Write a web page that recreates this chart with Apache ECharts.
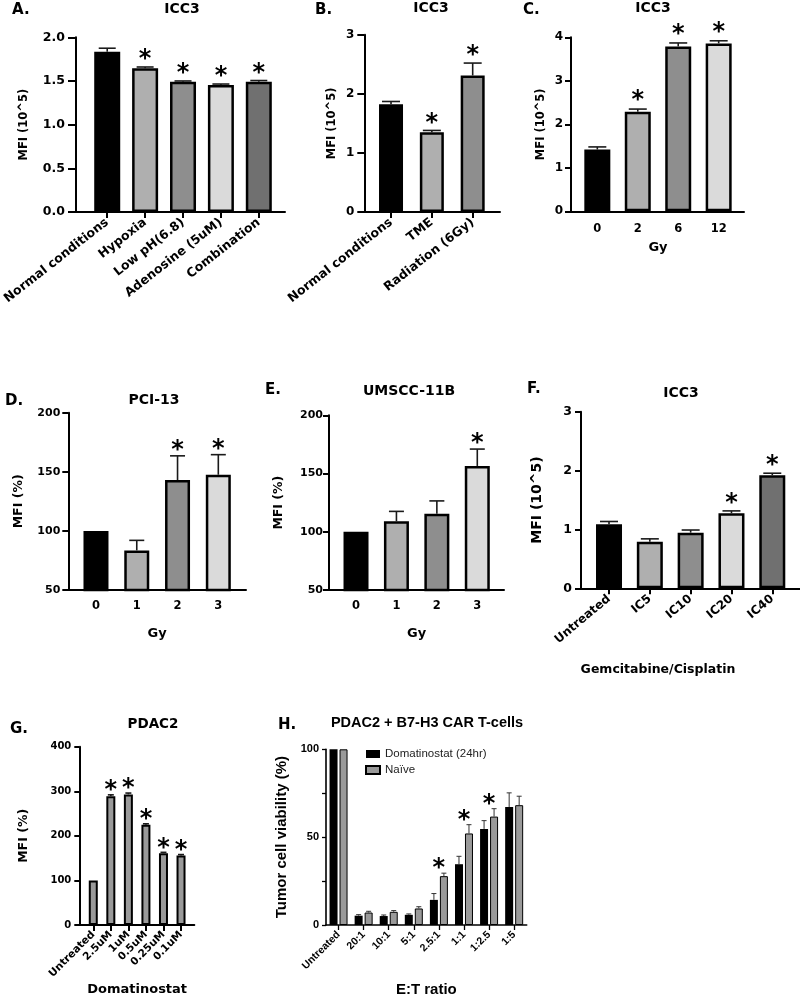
<!DOCTYPE html>
<html><head><meta charset="utf-8">
<script src="https://cdn.jsdelivr.net/npm/echarts@6/dist/echarts.min.js"></script>
<style>html,body{margin:0;padding:0;background:#fff}#c{width:800px;height:998px}</style>
</head><body><div id="c"></div>
<script>
// ---------------- DATA ----------------
const catsA = ['Normal conditions', 'Hypoxia', 'Low pH(6.8)', 'Adenosine (5uM)', 'Combination'];
const valsA = [1.835, 1.645, 1.49, 1.455, 1.49];
const errsA = [0.04, 0.015, 0.01, 0.01, 0.015];
const sigA  = [0, 1, 1, 1, 1];
const yTicksA = [0, 0.5, 1.0, 1.5, 2.0];

const catsB = ['Normal conditions', 'TME', 'Radiation (6Gy)'];
const valsB = [1.825, 1.35, 2.31];
const errsB = [0.045, 0.03, 0.21];
const sigB  = [0, 1, 1];
const yTicksB = [0, 1, 2, 3];

const catsC = ['0', '2', '6', '12'];
const valsC = [1.42, 2.29, 3.79, 3.86];
const errsC = [0.06, 0.06, 0.08, 0.06];
const sigC  = [0, 1, 1, 1];
const yTicksC = [0, 1, 2, 3, 4];

const catsD = ['0', '1', '2', '3'];
const valsD = [100, 83.5, 143, 147.5];
const errsD = [0, 8.5, 20.5, 17];
const sigD  = [0, 0, 1, 1];
const yTicksD = [50, 100, 150, 200];

const catsE = ['0', '1', '2', '3'];
const valsE = [100, 109, 115.5, 156.5];
const errsE = [0, 8.5, 11, 14.5];
const sigE  = [0, 0, 0, 1];
const yTicksE = [50, 100, 150, 200];

const catsF = ['Untreated', 'IC5', 'IC10', 'IC20', 'IC40'];
const valsF = [1.09, 0.79, 0.945, 1.275, 1.92];
const errsF = [0.045, 0.05, 0.045, 0.04, 0.035];
const sigF  = [0, 0, 0, 1, 1];
const yTicksF = [0, 1, 2, 3];

const catsG = ['Untreated', '2.5uM', '1uM', '0.5uM', '0.25uM', '0.1uM'];
const valsG = [100, 289, 293, 225, 161, 156];
const errsG = [0, 3, 3, 2, 2, 2];
const sigG  = [0, 1, 1, 1, 1, 1];
const yTicksG = [0, 100, 200, 300, 400];

const catsH = ['Untreated', '20:1', '10:1', '5:1', '2.5:1', '1:1', '1:2.5', '1:5'];
const domatH    = [100, 5.3, 5.1, 5.8, 14.3, 34.6, 54.7, 67.1];
const domatErrH = [0, 0.6, 0.6, 0.5, 3.6, 4.5, 4.7, 8.1];
const naiveH    = [100, 7.1, 7.5, 9.4, 27.8, 52.1, 61.7, 68.2];
const naiveErrH = [0, 0.7, 0.7, 1.0, 1.7, 5.0, 4.5, 5.1];
const sigH      = [0, 0, 0, 0, 1, 1, 1, 0];
const yTicksH = [0, 25, 50, 75, 100];
const seriesNamesH = ['Domatinostat (24hr)', 'Naïve'];

// ---------------- STYLES ----------------
const greys5 = ['#000000', '#afafaf', '#8e8e8e', '#dadada', '#707070'];
const FD = '"DejaVu Sans", sans-serif';
const FL = '"Liberation Sans", Arial, sans-serif';
const STAR_FONT = 'bold 24px "DejaVu Sans"';

const option = {
  animation: false, backgroundColor: '#ffffff',
  title: [], grid: [], xAxis: [], yAxis: [], series: [], legend: []
};

function addText(text, x, y, size, font, align) {
  option.title.push({
    text: text, left: x, top: y, padding: 0,
    textAlign: align || 'left', textVerticalAlign: 'middle',
    textStyle: { fontFamily: font, fontSize: size, fontWeight: 'bold', color: '#000' }
  });
}

function errSeries(xi, yi, vals, errs, dx, cap, color, lw) {
  return {
    type: 'custom', xAxisIndex: xi, yAxisIndex: yi, z: 5, silent: true,
    data: vals.map((v, i) => [i, v, errs[i]]),
    renderItem: function (params, api) {
      const i = api.value(0), v = api.value(1), e = api.value(2);
      if (!e) return { type: 'group', children: [] };
      const b = api.coord([i, v]), t = api.coord([i, v + e]);
      const x = b[0] + dx;
      return { type: 'group', children: [
        { type: 'line', shape: { x1: x, y1: b[1], x2: x, y2: t[1] }, style: { stroke: color, lineWidth: lw } },
        { type: 'line', shape: { x1: x - cap / 2, y1: t[1], x2: x + cap / 2, y2: t[1] }, style: { stroke: color, lineWidth: lw } }
      ] };
    }
  };
}

function starSeries(xi, yi, tops, sig, lift) {
  return {
    type: 'custom', xAxisIndex: xi, yAxisIndex: yi, z: 6, silent: true,
    data: tops.map((v, i) => [i, v, sig[i]]),
    renderItem: function (params, api) {
      if (!api.value(2)) return { type: 'group', children: [] };
      const p = api.coord([api.value(0), api.value(1)]);
      return { type: 'text', x: p[0], y: p[1] - lift,
        style: { text: '*', font: STAR_FONT, fill: '#000', align: 'center', verticalAlign: 'middle' } };
    }
  };
}

function barPanel(p) {
  const gi = option.grid.length;
  const xi = option.xAxis.length, yi = option.yAxis.length;
  const ymin = p.yTicks[0], ymax = p.yTicks[p.yTicks.length - 1], yint = p.yTicks[1] - p.yTicks[0];
  const h = p.bottom - p.top;
  option.grid.push({ left: p.axisX, top: p.top, width: p.axisEnd - p.axisX, height: h });
  option.grid.push({ left: p.plotL, top: p.top, width: p.plotR - p.plotL, height: h });
  const axLine = { show: true, onZero: false, lineStyle: { color: '#000', width: p.lw || 2 } };
  // frame axes
  option.xAxis.push({ gridIndex: gi, type: 'value', min: 0, max: 1, axisLine: axLine,
    axisTick: { show: false }, axisLabel: { show: false }, splitLine: { show: false } });
  option.yAxis.push({ gridIndex: gi, type: 'value', min: ymin, max: ymax, interval: yint,
    axisLine: axLine, axisTick: { show: true, length: p.yTickLen, lineStyle: { color: '#000', width: 2 } },
    axisLabel: { margin: p.yLabMargin, fontFamily: FD, fontSize: p.yLabSize, fontWeight: 'bold', color: '#000',
      formatter: p.yFmt || function (v) { return String(v); } },
    splitLine: { show: false },
    name: p.yName, nameLocation: 'middle', nameGap: p.yNameGap, nameRotate: 90,
    nameTextStyle: { fontFamily: FD, fontSize: p.yNameSize, fontWeight: 'bold', color: '#000' } });
  // plot axes
  const xa = { gridIndex: gi + 1, type: 'category', data: p.cats,
    axisLine: { show: false },
    axisTick: { show: p.xTicks, alignWithLabel: true, length: p.xTickLen || 6, lineStyle: { color: '#000', width: 2 } },
    axisLabel: { interval: 0, rotate: p.xRot || 0, margin: p.xLabMargin, fontFamily: FD, fontSize: p.xLabSize,
      fontWeight: 'bold', color: '#000' },
    splitLine: { show: false } };
  if (p.xName) {
    xa.name = p.xName; xa.nameLocation = 'middle'; xa.nameGap = p.xNameGap;
    xa.nameTextStyle = { fontFamily: FD, fontSize: p.xNameSize, fontWeight: 'bold', color: '#000' };
  }
  option.xAxis.push(xa);
  option.yAxis.push({ gridIndex: gi + 1, type: 'value', min: ymin, max: ymax, interval: yint, show: false });
  option.series.push({
    type: 'bar', xAxisIndex: xi + 1, yAxisIndex: yi + 1, barWidth: p.barW, clip: true, silent: true,
    data: p.vals.map((v, i) => ({ value: v, itemStyle: { color: p.colors[i % p.colors.length] } })),
    itemStyle: { borderColor: '#000', borderWidth: p.bw }
  });
  option.series.push(errSeries(xi + 1, yi + 1, p.vals, p.errs, 0, p.cap, '#1a1a1a', p.elw || 1.6));
  option.series.push(starSeries(xi + 1, yi + 1, p.vals.map((v, i) => v + p.errs[i]), p.sig, p.starLift));
  addText(p.letter, p.letterX, p.letterY, p.letterSize || 15, FD, 'left');
  addText(p.title, p.titleX, p.titleY, p.titleSize || 14, FD, 'center');
}

// ---------------- PANELS ----------------
barPanel({ letter: 'A.', letterX: 12, letterY: 10, title: 'ICC3', titleX: 182, titleY: 9,
  cats: catsA, vals: valsA, errs: errsA, sig: sigA, yTicks: yTicksA, colors: greys5,
  axisX: 76, axisEnd: 285, plotL: 83.25, plotR: 277.75, top: 37.3, bottom: 212,
  yFmt: function (v) { return v.toFixed(1); }, yLabSize: 12.5, yLabMargin: 11, yTickLen: 8,
  yName: 'MFI (10^5)', yNameGap: 46, yNameSize: 11.5,
  xTicks: true, xTickLen: 6, xRot: 38, xLabMargin: 9, xLabSize: 12.5,
  barW: 26, bw: 2.5, cap: 17, starLift: 7 });

barPanel({ letter: 'B.', letterX: 315, letterY: 10, title: 'ICC3', titleX: 431, titleY: 8.5,
  cats: catsB, vals: valsB, errs: errsB, sig: sigB, yTicks: yTicksB, colors: greys5,
  axisX: 364.3, axisEnd: 500, plotL: 370.6, plotR: 493.1, top: 34.7, bottom: 212,
  yLabSize: 12, yLabMargin: 10, yTickLen: 7,
  yName: 'MFI (10^5)', yNameGap: 26, yNameSize: 11.5,
  xTicks: true, xTickLen: 6, xRot: 38, xLabMargin: 9, xLabSize: 12.5,
  barW: 24, bw: 2.5, cap: 18, starLift: 7 });

barPanel({ letter: 'C.', letterX: 523, letterY: 10, title: 'ICC3', titleX: 653, titleY: 8,
  cats: catsC, vals: valsC, errs: errsC, sig: sigC, yTicks: yTicksC, colors: greys5,
  axisX: 571, axisEnd: 744, plotL: 577.1, plotR: 738.9, top: 37.3, bottom: 211.3,
  yLabSize: 12, yLabMargin: 8, yTickLen: 6,
  yName: 'MFI (10^5)', yNameGap: 24, yNameSize: 11.5,
  xTicks: false, xLabMargin: 12, xLabSize: 11.5,
  xName: 'Gy', xNameGap: 30, xNameSize: 13,
  barW: 26, bw: 2.5, cap: 18, starLift: 8 });

barPanel({ letter: 'D.', letterX: 5, letterY: 401, title: 'PCI-13', titleX: 154, titleY: 400.5,
  cats: catsD, vals: valsD, errs: errsD, sig: sigD, yTicks: yTicksD, colors: greys5,
  axisX: 68.3, axisEnd: 246, plotL: 75.6, plotR: 238.7, top: 412.7, bottom: 590,
  yLabSize: 11, yLabMargin: 8, yTickLen: 6,
  yName: 'MFI (%)', yNameGap: 43, yNameSize: 12.5,
  xTicks: false, xLabMargin: 10, xLabSize: 11.5,
  xName: 'Gy', xNameGap: 37, xNameSize: 13,
  barW: 25, bw: 2.5, cap: 15, starLift: 5 });

barPanel({ letter: 'E.', letterX: 265, letterY: 390, title: 'UMSCC-11B', titleX: 409, titleY: 391.5,
  cats: catsE, vals: valsE, errs: errsE, sig: sigE, yTicks: yTicksE, colors: greys5,
  axisX: 329, axisEnd: 504, plotL: 335.8, plotR: 497.5, top: 415.3, bottom: 590,
  yLabSize: 11, yLabMargin: 6, yTickLen: 6,
  yName: 'MFI (%)', yNameGap: 44, yNameSize: 12.5,
  xTicks: false, xLabMargin: 10, xLabSize: 11.5,
  xName: 'Gy', xNameGap: 37, xNameSize: 13,
  barW: 25, bw: 2.5, cap: 15, starLift: 5 });

barPanel({ letter: 'F.', letterX: 527, letterY: 389.5, title: 'ICC3', titleX: 681, titleY: 393,
  cats: catsF, vals: valsF, errs: errsF, sig: sigF, yTicks: yTicksF, colors: greys5,
  axisX: 581, axisEnd: 800, plotL: 588.6, plotR: 792.7, top: 411.7, bottom: 588.3,
  yLabSize: 12.5, yLabMargin: 9, yTickLen: 6,
  yName: 'MFI (10^5)', yNameGap: 37, yNameSize: 14,
  xTicks: true, xTickLen: 6, xRot: 40, xLabMargin: 9, xLabSize: 12,
  barW: 26, bw: 2.5, cap: 18, starLift: 7 });
addText('Gemcitabine/Cisplatin', 658, 670, 12.5, FD, 'center');

barPanel({ letter: 'G.', letterX: 10, letterY: 729.5, title: 'PDAC2', titleX: 153, titleY: 724, titleSize: 13.5,
  cats: catsG, vals: valsG, errs: errsG, sig: sigG, yTicks: yTicksG, colors: ['#9a9a9a'],
  axisX: 79.3, axisEnd: 194.3, plotL: 84.5, plotR: 189.8, top: 746.7, bottom: 925,
  yLabSize: 10, yLabMargin: 8, yTickLen: 5,
  yName: 'MFI (%)', yNameGap: 49, yNameSize: 12.5,
  xTicks: true, xTickLen: 6, xRot: 45, xLabMargin: 8, xLabSize: 10.5,
  xName: 'Domatinostat', xNameGap: 58, xNameSize: 13,
  barW: 9, bw: 2, cap: 6, starLift: 4 });

// ---- Panel H (grouped) ----
(function () {
  const gi = option.grid.length, xi = option.xAxis.length, yi = option.yAxis.length;
  option.grid.push({ left: 326, top: 749.3, width: 200.7, height: 177.4 });
  option.xAxis.push({ gridIndex: gi, type: 'category', data: catsH,
    axisLine: { show: true, onZero: false, lineStyle: { color: '#000', width: 1.6 } },
    axisTick: { show: true, alignWithLabel: true, length: 5, lineStyle: { color: '#000', width: 1.3 } },
    axisLabel: { interval: 0, rotate: 45, margin: 8, fontFamily: FL, fontSize: 10.5, fontWeight: 'bold', color: '#000' },
    name: 'E:T ratio', nameLocation: 'middle', nameGap: 57,
    nameTextStyle: { fontFamily: FL, fontSize: 15, fontWeight: 'bold', color: '#000' } });
  option.yAxis.push({ gridIndex: gi, type: 'value', min: yTicksH[0], max: yTicksH[yTicksH.length - 1],
    interval: yTicksH[1] - yTicksH[0],
    axisLine: { show: true, onZero: false, lineStyle: { color: '#000', width: 1.6 } },
    axisTick: { show: true, length: 4, lineStyle: { color: '#000', width: 1.3 } },
    axisLabel: { margin: 7, fontFamily: FL, fontSize: 11, fontWeight: 'bold', color: '#000',
      formatter: function (v) { return v % 50 === 0 ? String(v) : ''; } },
    splitLine: { show: false },
    name: 'Tumor cell viability (%)', nameLocation: 'middle', nameGap: 37, nameRotate: 90,
    nameTextStyle: { fontFamily: FL, fontSize: 15, fontWeight: 'bold', color: '#000' } });
  option.series.push({ name: seriesNamesH[0], type: 'bar', xAxisIndex: xi, yAxisIndex: yi, barWidth: 8, barGap: '25%',
    data: domatH, itemStyle: { color: '#000000' }, silent: true });
  option.series.push({ name: seriesNamesH[1], type: 'bar', xAxisIndex: xi, yAxisIndex: yi, barWidth: 8, barGap: '25%',
    data: naiveH, itemStyle: { color: '#9a9a9a', borderColor: '#000', borderWidth: 1 }, silent: true });
  option.series.push(errSeries(xi, yi, domatH, domatErrH, -5, 5, '#333', 1));
  option.series.push(errSeries(xi, yi, naiveH, naiveErrH, 5, 5, '#333', 1));
  option.series.push(starSeries(xi, yi, domatH.map((v, i) => Math.max(v + domatErrH[i], naiveH[i] + naiveErrH[i])), sigH, 4));
  option.legend.push({ data: seriesNamesH, left: 365, top: 748, orient: 'vertical', padding: 0,
    itemWidth: 14, itemHeight: 8, itemGap: 4, icon: 'rect', selectedMode: false,
    textStyle: { fontFamily: FL, fontSize: 11.5, color: '#222' } });
  addText('H.', 278, 725.5, 15, FD, 'left');
  addText('PDAC2 + B7-H3 CAR T-cells', 427, 722.5, 14.5, FL, 'center');
})();

const chart = echarts.init(document.getElementById('c'), null, { renderer: 'canvas' });
chart.setOption(option);
</script>
</body></html>
